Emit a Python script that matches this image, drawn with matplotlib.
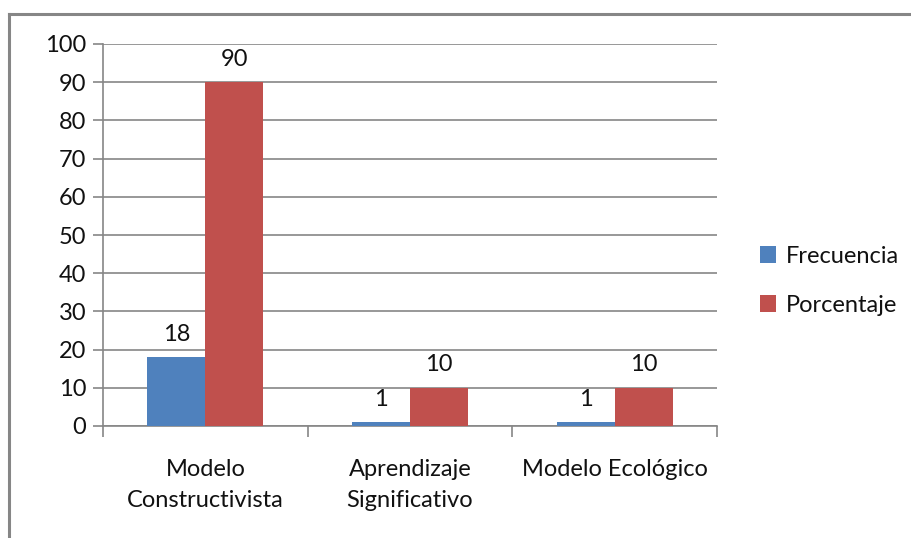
import matplotlib.pyplot as plt
import numpy as np

# Datos
categorias = ['Modelo\nConstructivista', 'Aprendizaje\nSignificativo', 'Modelo Ecológico']
frecuencia = [18, 1, 1]
porcentaje = [90, 10, 10]

azul = '#4F81BD'
rojo = '#C0504D'
gris = '#868686'

plt.rcParams['font.family'] = ['Lato', 'DejaVu Sans']
plt.rcParams['text.color'] = '#111111'

fig = plt.figure(figsize=(9.11, 5.38), dpi=100)
ax = fig.add_axes([103 / 911, 1 - 426 / 538, (717 - 103) / 911, (426 - 44) / 538])

# borde del grafico (recortado a la derecha y abajo)
fig.add_artist(plt.Line2D([9 / 911, 1], [1 - 14 / 538, 1 - 14 / 538], color=gris, lw=2.2))
fig.add_artist(plt.Line2D([9 / 911, 9 / 911], [0, 1 - 14 / 538], color=gris, lw=2.2))

x = np.arange(len(categorias))
ancho = 0.283
b1 = ax.bar(x - ancho / 2, frecuencia, ancho, color=azul, label='Frecuencia', zorder=3)
b2 = ax.bar(x + ancho / 2, porcentaje, ancho, color=rojo, label='Porcentaje', zorder=3)

for barras in (b1, b2):
    for b in barras:
        ax.annotate(f'{int(b.get_height())}', (b.get_x() + b.get_width() / 2, b.get_height()),
                    xytext=(0, 16.5), textcoords='offset points', ha='center', va='center',
                    fontsize=17)

ax.set_xlim(-0.5, 2.5)
ax.set_ylim(0, 100)
ax.set_yticks(range(0, 101, 10))
ax.yaxis.grid(True, color=gris, lw=1.2, zorder=0)
ax.set_xticks([-0.5, 0.5, 1.5, 2.5])
ax.set_xticklabels([])
ax.set_xticks(x, minor=True)
ax.set_xticklabels(categorias, minor=True, fontsize=17, linespacing=1.55, color='#111111')
ax.tick_params(axis='x', which='minor', length=0, pad=24)
ax.tick_params(axis='x', which='major', length=8, color=gris, width=1.2)
ax.tick_params(axis='y', length=7, color=gris, width=1.2, labelsize=17, pad=5,
               labelcolor='#111111')

for lado in ['top', 'right']:
    ax.spines[lado].set_visible(False)
ax.spines['left'].set_color(gris)
ax.spines['bottom'].set_color(gris)
ax.spines['left'].set_linewidth(1.2)
ax.spines['bottom'].set_linewidth(1.2)

ax.legend(loc='center left', bbox_to_anchor=(1.035, 0.38), frameon=False, fontsize=17,
          handlelength=0.7, handleheight=0.7, handletextpad=0.4, labelspacing=1.2)

plt.savefig('out.png', dpi=100)
